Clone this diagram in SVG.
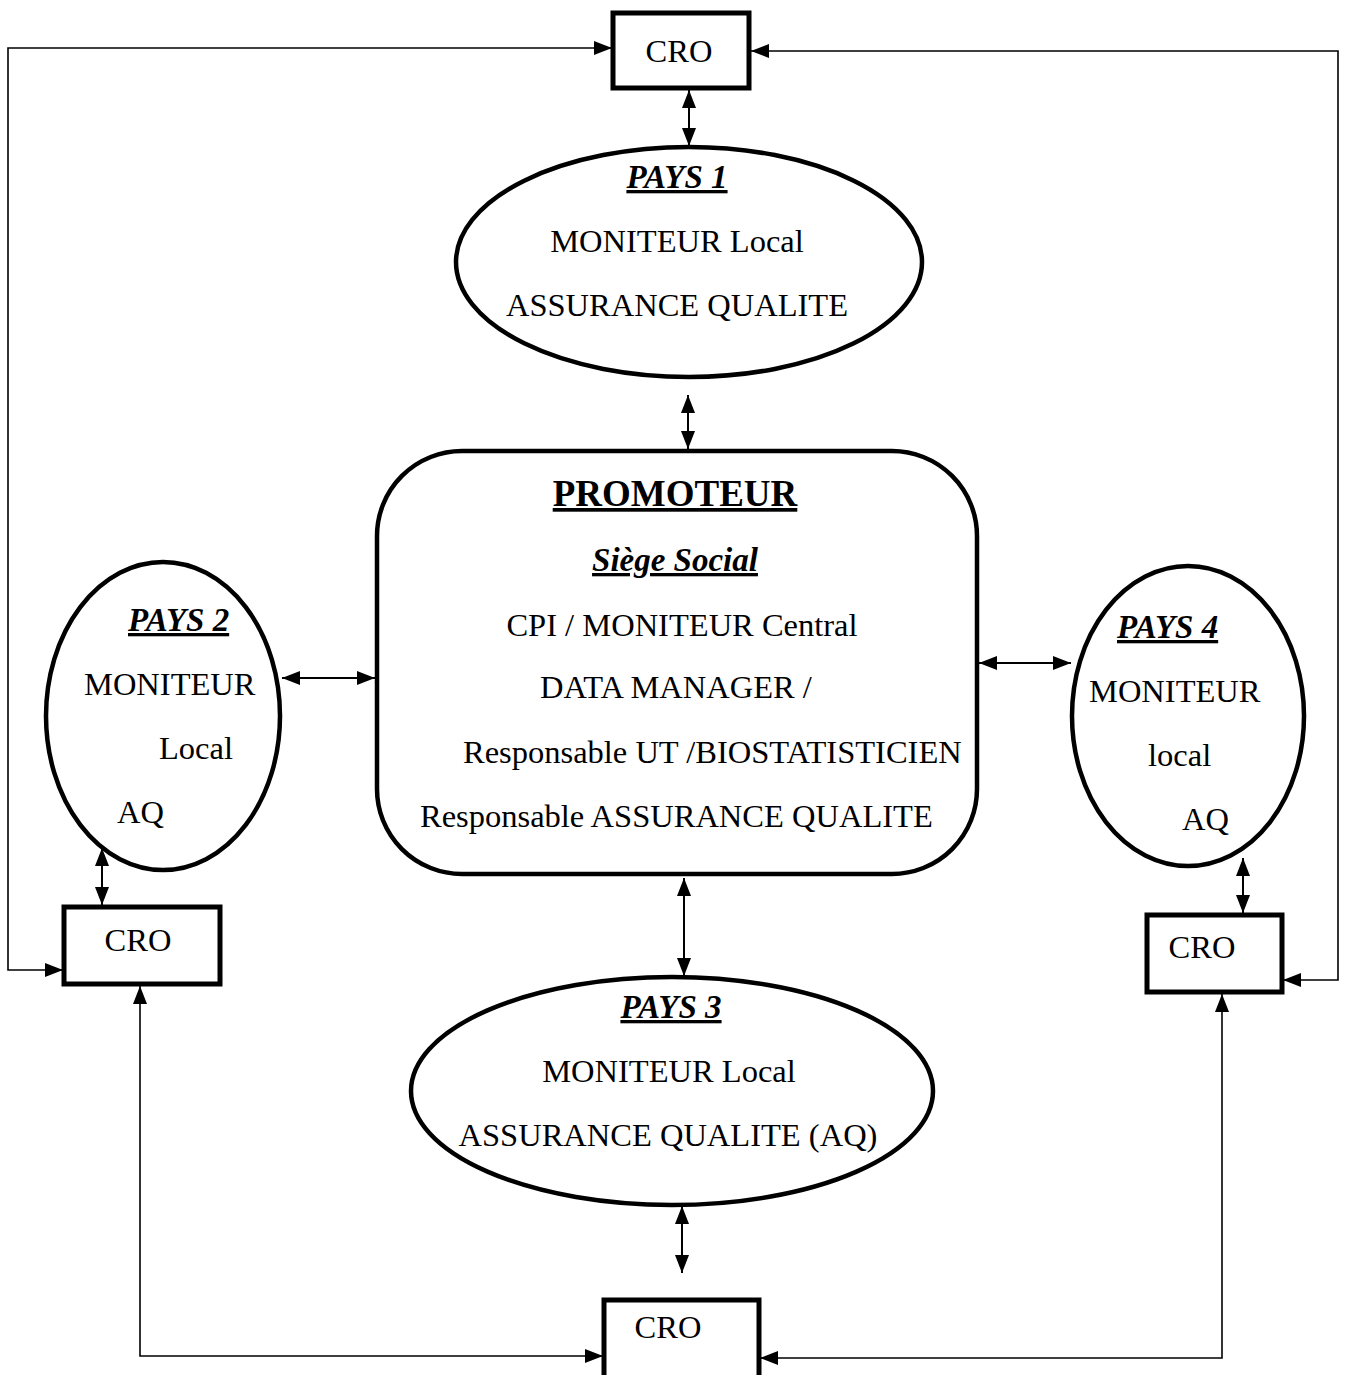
<svg xmlns="http://www.w3.org/2000/svg" width="1345" height="1375" viewBox="0 0 1345 1375">
  <style>
    .box { fill: #fff; stroke: #000; stroke-width: 5; }
    .shape { fill: #fff; stroke: #000; stroke-width: 4.5; }
    .t { font-family: "Liberation Serif", "Times New Roman", serif; font-size: 32.5px; fill: #000; }
    .head { font-family: "Liberation Serif", "Times New Roman", serif; font-size: 33px; font-weight: bold; font-style: italic; text-decoration: underline; fill: #000; }
    .title { font-family: "Liberation Serif", "Times New Roman", serif; font-size: 37px; font-weight: bold; text-decoration: underline; fill: #000; }
    .link { fill: none; stroke: #000; stroke-width: 2; marker-start: url(#head); marker-end: url(#head); }
    .route { fill: none; stroke: #000; stroke-width: 1.6; marker-start: url(#head); marker-end: url(#head); }
  </style>
  <defs>
    <marker id="head" viewBox="0 0 18 14" refX="18" refY="7" markerWidth="18" markerHeight="14" markerUnits="userSpaceOnUse" orient="auto-start-reverse">
      <path d="M0,0 L18,7 L0,14 z" fill="#000"/>
    </marker>
  </defs>
  <rect width="1345" height="1375" fill="#fff"/>

  <!-- connectors -->
  <g id="connectors">
    <path class="route" d="M612,48 H8 V970 H63"/>
    <path class="route" d="M751,51 H1338 V980 H1283"/>
    <path class="route" d="M140,986 V1356 H603"/>
    <path class="route" d="M1222,994 V1358 H760"/>
    <path class="link" d="M689,90 V146"/>
    <path class="link" d="M688,395 V449"/>
    <path class="link" d="M282,678 H375"/>
    <path class="link" d="M979,663 H1071"/>
    <path class="link" d="M684,878 V976"/>
    <path class="link" d="M682,1206 V1273"/>
    <path class="link" d="M102,848 V905"/>
    <path class="link" d="M1243,858 V913"/>
  </g>

  <!-- CRO, top -->
  <g id="cro-top">
    <rect class="box" x="613" y="13" width="136" height="75"/>
    <text class="t" x="679" y="62" text-anchor="middle">CRO</text>
  </g>

  <!-- PAYS 1 -->
  <g id="pays1">
    <ellipse class="shape" cx="689" cy="262" rx="233" ry="115"/>
    <text class="head" x="677" y="188" text-anchor="middle">PAYS 1</text>
    <text class="t" x="677" y="252" text-anchor="middle">MONITEUR Local</text>
    <text class="t" x="677" y="316" text-anchor="middle">ASSURANCE QUALITE</text>
  </g>

  <!-- PROMOTEUR -->
  <g id="promoteur">
    <rect class="shape" x="377" y="451" width="600" height="423" rx="85" ry="85"/>
    <text class="title" x="675" y="506" text-anchor="middle">PROMOTEUR</text>
    <text class="head" x="675" y="571" text-anchor="middle">Siège Social</text>
    <text class="t" x="682" y="636" text-anchor="middle">CPI / MONITEUR Central</text>
    <text class="t" x="540" y="698">DATA MANAGER /</text>
    <text class="t" x="463" y="763">Responsable UT /BIOSTATISTICIEN</text>
    <text class="t" x="420" y="827">Responsable ASSURANCE QUALITE</text>
  </g>

  <!-- PAYS 2 -->
  <g id="pays2">
    <ellipse class="shape" cx="163" cy="716" rx="117" ry="154"/>
    <text class="head" x="128" y="631">PAYS 2</text>
    <text class="t" x="84" y="695">MONITEUR</text>
    <text class="t" x="159" y="759">Local</text>
    <text class="t" x="117" y="823">AQ</text>
  </g>

  <!-- CRO, left -->
  <g id="cro-left">
    <rect class="box" x="64" y="907" width="156" height="77"/>
    <text class="t" x="138" y="951" text-anchor="middle">CRO</text>
  </g>

  <!-- PAYS 4 -->
  <g id="pays4">
    <ellipse class="shape" cx="1188" cy="716" rx="116" ry="150"/>
    <text class="head" x="1117" y="638">PAYS 4</text>
    <text class="t" x="1089" y="702">MONITEUR</text>
    <text class="t" x="1148" y="766">local</text>
    <text class="t" x="1182" y="830">AQ</text>
  </g>

  <!-- CRO, right -->
  <g id="cro-right">
    <rect class="box" x="1147" y="915" width="135" height="77"/>
    <text class="t" x="1202" y="958" text-anchor="middle">CRO</text>
  </g>

  <!-- PAYS 3 -->
  <g id="pays3">
    <ellipse class="shape" cx="672" cy="1091" rx="261" ry="114"/>
    <text class="head" x="671" y="1018" text-anchor="middle">PAYS 3</text>
    <text class="t" x="669" y="1082" text-anchor="middle">MONITEUR Local</text>
    <text class="t" x="668" y="1146" text-anchor="middle">ASSURANCE QUALITE (AQ)</text>
  </g>

  <!-- CRO, bottom -->
  <g id="cro-bottom">
    <rect class="box" x="604" y="1300" width="155" height="90"/>
    <text class="t" x="668" y="1338" text-anchor="middle">CRO</text>
  </g>
</svg>
